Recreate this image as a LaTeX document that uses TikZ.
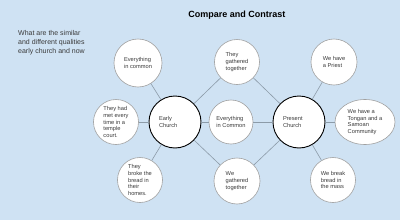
\documentclass[tikz,border=0pt]{standalone}
\usepackage{fontspec}
\setmainfont{Liberation Sans}
\usetikzlibrary{shapes.geometric}
\definecolor{bgblue}{HTML}{CFE2F3}
\definecolor{txtgray}{HTML}{3A3A3A}
\definecolor{linegray}{HTML}{8C9BA8}
\definecolor{circgray}{HTML}{A0A0A0}
\tikzset{
  bubble/.style={circle, draw=circgray, line width=0.6pt, fill=white, inner sep=0pt,
    minimum size=45pt, align=left, text=txtgray,
    font=\fontsize{5.7}{6.7}\selectfont},
  hub/.style={circle, draw=black, line width=0.9pt, fill=white, inner sep=0pt,
    minimum size=52pt, align=left, text width=32pt, text=txtgray,
    font=\fontsize{5.7}{6.7}\selectfont},
  link/.style={draw=linegray, line width=0.6pt}
}
\begin{document}
\begin{tikzpicture}[x=1pt,y=-1pt]
\fill[bgblue] (0,0) rectangle (400,220);
\useasboundingbox (0,0) rectangle (400,220);
\node[font=\bfseries\fontsize{9}{11}\selectfont] (title) at (237,15) {Compare and Contrast};
\node[anchor=north west, align=left, text=txtgray, font=\fontsize{7}{9}\selectfont, inner sep=0pt] (question) at (18,30)
  {What are the similar\\and different qualities\\early church and now};
\node[hub] (early) at (175,122) {Early\\Church};
\node[hub] (present) at (299,122) {Present\\Church};
\node[bubble, minimum size=44pt] (mid) at (231,122) {Everything\\in Common};
\node[bubble, minimum size=48pt] (common) at (138,63) {Everything\\in common};
\node[bubble] (gathered) at (237,62) {They\\gathered\\together};
\node[bubble, minimum size=46pt] (priest) at (334,62) {We have\\a Priest};
\node[bubble] (temple) at (116,122) {They had\\met every\\time in a\\temple\\court.};
\node[ellipse, draw=circgray, line width=0.6pt, fill=white, inner sep=0pt,
  minimum width=60pt, minimum height=45pt, align=left, text=txtgray,
  font=\fontsize{5.7}{6.7}\selectfont] (tongan) at (365,122) {We have a\\Tongan and a\\Samoan\\Community};
\node[bubble] (broke) at (140,180) {They\\broke the\\bread in\\their\\homes.};
\node[bubble, minimum size=46pt] (wegathered) at (237,181) {We\\gathered\\together};
\node[bubble] (mass) at (333,180) {We break\\bread in\\the mass};
\draw[link] (early) -- (common);
\draw[link] (early) -- (gathered);
\draw[link] (early) -- (temple);
\draw[link] (early) -- (broke);
\draw[link] (early) -- (mid);
\draw[link] (early) -- (wegathered);
\draw[link] (present) -- (gathered);
\draw[link] (present) -- (priest);
\draw[link] (present) -- (mid);
\draw[link] (present) -- (tongan);
\draw[link] (present) -- (mass);
\draw[link] (present) -- (wegathered);
\end{tikzpicture}
\end{document}
